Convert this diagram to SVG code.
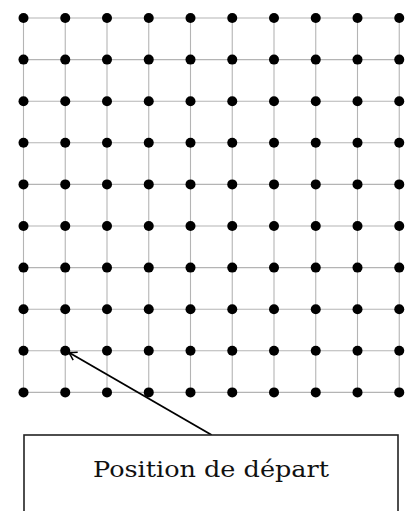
<svg xmlns="http://www.w3.org/2000/svg" width="419" height="511" viewBox="0 0 419 511">
  <defs>
    <style>
      .grid line { stroke: #b4b4b4; stroke-width: 1.1; }
      .dot { fill: #000; }
      .conn { stroke: #000; stroke-width: 1.8; fill: none; }
      .box { fill: #fff; stroke: #222; stroke-width: 1.6; }
      .label { font-family: "DejaVu Serif", "Liberation Serif", serif; font-size: 22.5px; fill: #111; }
    </style>
    <marker id="arr" viewBox="-10 -6 12 12" markerWidth="12" markerHeight="12" refX="0" refY="0" orient="auto" markerUnits="userSpaceOnUse">
      <path d="M -8 -4.5 Q -3 -1.2 0 0 Q -3 1.2 -8 4.5" fill="none" stroke="#000" stroke-width="1.5"/>
    </marker>
  </defs>
  <rect width="419" height="511" fill="#fff"/>
  <g id="grid" class="grid">
    <line x1="23.5" y1="18" x2="23.5" y2="392.4"/>
    <line x1="65.25" y1="18" x2="65.25" y2="392.4"/>
    <line x1="107" y1="18" x2="107" y2="392.4"/>
    <line x1="148.75" y1="18" x2="148.75" y2="392.4"/>
    <line x1="190.5" y1="18" x2="190.5" y2="392.4"/>
    <line x1="232.25" y1="18" x2="232.25" y2="392.4"/>
    <line x1="274" y1="18" x2="274" y2="392.4"/>
    <line x1="315.75" y1="18" x2="315.75" y2="392.4"/>
    <line x1="357.5" y1="18" x2="357.5" y2="392.4"/>
    <line x1="399.25" y1="18" x2="399.25" y2="392.4"/>
    <line x1="23.5" y1="18" x2="399.25" y2="18"/>
    <line x1="23.5" y1="59.6" x2="399.25" y2="59.6"/>
    <line x1="23.5" y1="101.2" x2="399.25" y2="101.2"/>
    <line x1="23.5" y1="142.8" x2="399.25" y2="142.8"/>
    <line x1="23.5" y1="184.4" x2="399.25" y2="184.4"/>
    <line x1="23.5" y1="226" x2="399.25" y2="226"/>
    <line x1="23.5" y1="267.6" x2="399.25" y2="267.6"/>
    <line x1="23.5" y1="309.2" x2="399.25" y2="309.2"/>
    <line x1="23.5" y1="350.8" x2="399.25" y2="350.8"/>
    <line x1="23.5" y1="392.4" x2="399.25" y2="392.4"/>
  </g>
  <g id="dots">
    <g id="row0"><circle class="dot" cx="23.5" cy="18" r="5"/><circle class="dot" cx="65.25" cy="18" r="5"/><circle class="dot" cx="107" cy="18" r="5"/><circle class="dot" cx="148.75" cy="18" r="5"/><circle class="dot" cx="190.5" cy="18" r="5"/><circle class="dot" cx="232.25" cy="18" r="5"/><circle class="dot" cx="274" cy="18" r="5"/><circle class="dot" cx="315.75" cy="18" r="5"/><circle class="dot" cx="357.5" cy="18" r="5"/><circle class="dot" cx="399.25" cy="18" r="5"/></g>
    <g id="row1"><circle class="dot" cx="23.5" cy="59.6" r="5"/><circle class="dot" cx="65.25" cy="59.6" r="5"/><circle class="dot" cx="107" cy="59.6" r="5"/><circle class="dot" cx="148.75" cy="59.6" r="5"/><circle class="dot" cx="190.5" cy="59.6" r="5"/><circle class="dot" cx="232.25" cy="59.6" r="5"/><circle class="dot" cx="274" cy="59.6" r="5"/><circle class="dot" cx="315.75" cy="59.6" r="5"/><circle class="dot" cx="357.5" cy="59.6" r="5"/><circle class="dot" cx="399.25" cy="59.6" r="5"/></g>
    <g id="row2"><circle class="dot" cx="23.5" cy="101.2" r="5"/><circle class="dot" cx="65.25" cy="101.2" r="5"/><circle class="dot" cx="107" cy="101.2" r="5"/><circle class="dot" cx="148.75" cy="101.2" r="5"/><circle class="dot" cx="190.5" cy="101.2" r="5"/><circle class="dot" cx="232.25" cy="101.2" r="5"/><circle class="dot" cx="274" cy="101.2" r="5"/><circle class="dot" cx="315.75" cy="101.2" r="5"/><circle class="dot" cx="357.5" cy="101.2" r="5"/><circle class="dot" cx="399.25" cy="101.2" r="5"/></g>
    <g id="row3"><circle class="dot" cx="23.5" cy="142.8" r="5"/><circle class="dot" cx="65.25" cy="142.8" r="5"/><circle class="dot" cx="107" cy="142.8" r="5"/><circle class="dot" cx="148.75" cy="142.8" r="5"/><circle class="dot" cx="190.5" cy="142.8" r="5"/><circle class="dot" cx="232.25" cy="142.8" r="5"/><circle class="dot" cx="274" cy="142.8" r="5"/><circle class="dot" cx="315.75" cy="142.8" r="5"/><circle class="dot" cx="357.5" cy="142.8" r="5"/><circle class="dot" cx="399.25" cy="142.8" r="5"/></g>
    <g id="row4"><circle class="dot" cx="23.5" cy="184.4" r="5"/><circle class="dot" cx="65.25" cy="184.4" r="5"/><circle class="dot" cx="107" cy="184.4" r="5"/><circle class="dot" cx="148.75" cy="184.4" r="5"/><circle class="dot" cx="190.5" cy="184.4" r="5"/><circle class="dot" cx="232.25" cy="184.4" r="5"/><circle class="dot" cx="274" cy="184.4" r="5"/><circle class="dot" cx="315.75" cy="184.4" r="5"/><circle class="dot" cx="357.5" cy="184.4" r="5"/><circle class="dot" cx="399.25" cy="184.4" r="5"/></g>
    <g id="row5"><circle class="dot" cx="23.5" cy="226" r="5"/><circle class="dot" cx="65.25" cy="226" r="5"/><circle class="dot" cx="107" cy="226" r="5"/><circle class="dot" cx="148.75" cy="226" r="5"/><circle class="dot" cx="190.5" cy="226" r="5"/><circle class="dot" cx="232.25" cy="226" r="5"/><circle class="dot" cx="274" cy="226" r="5"/><circle class="dot" cx="315.75" cy="226" r="5"/><circle class="dot" cx="357.5" cy="226" r="5"/><circle class="dot" cx="399.25" cy="226" r="5"/></g>
    <g id="row6"><circle class="dot" cx="23.5" cy="267.6" r="5"/><circle class="dot" cx="65.25" cy="267.6" r="5"/><circle class="dot" cx="107" cy="267.6" r="5"/><circle class="dot" cx="148.75" cy="267.6" r="5"/><circle class="dot" cx="190.5" cy="267.6" r="5"/><circle class="dot" cx="232.25" cy="267.6" r="5"/><circle class="dot" cx="274" cy="267.6" r="5"/><circle class="dot" cx="315.75" cy="267.6" r="5"/><circle class="dot" cx="357.5" cy="267.6" r="5"/><circle class="dot" cx="399.25" cy="267.6" r="5"/></g>
    <g id="row7"><circle class="dot" cx="23.5" cy="309.2" r="5"/><circle class="dot" cx="65.25" cy="309.2" r="5"/><circle class="dot" cx="107" cy="309.2" r="5"/><circle class="dot" cx="148.75" cy="309.2" r="5"/><circle class="dot" cx="190.5" cy="309.2" r="5"/><circle class="dot" cx="232.25" cy="309.2" r="5"/><circle class="dot" cx="274" cy="309.2" r="5"/><circle class="dot" cx="315.75" cy="309.2" r="5"/><circle class="dot" cx="357.5" cy="309.2" r="5"/><circle class="dot" cx="399.25" cy="309.2" r="5"/></g>
    <g id="row8"><circle class="dot" cx="23.5" cy="350.8" r="5"/><circle id="start" class="dot" cx="65.25" cy="350.8" r="5"/><circle class="dot" cx="107" cy="350.8" r="5"/><circle class="dot" cx="148.75" cy="350.8" r="5"/><circle class="dot" cx="190.5" cy="350.8" r="5"/><circle class="dot" cx="232.25" cy="350.8" r="5"/><circle class="dot" cx="274" cy="350.8" r="5"/><circle class="dot" cx="315.75" cy="350.8" r="5"/><circle class="dot" cx="357.5" cy="350.8" r="5"/><circle class="dot" cx="399.25" cy="350.8" r="5"/></g>
    <g id="row9"><circle class="dot" cx="23.5" cy="392.4" r="5"/><circle class="dot" cx="65.25" cy="392.4" r="5"/><circle class="dot" cx="107" cy="392.4" r="5"/><circle class="dot" cx="148.75" cy="392.4" r="5"/><circle class="dot" cx="190.5" cy="392.4" r="5"/><circle class="dot" cx="232.25" cy="392.4" r="5"/><circle class="dot" cx="274" cy="392.4" r="5"/><circle class="dot" cx="315.75" cy="392.4" r="5"/><circle class="dot" cx="357.5" cy="392.4" r="5"/><circle class="dot" cx="399.25" cy="392.4" r="5"/></g>
  </g>
  <g id="connectors">
    <line class="conn" x1="211.7" y1="435" x2="68.5" y2="352.2" marker-end="url(#arr)"/>
  </g>
  <g id="label-box">
    <rect class="box" x="24" y="435" width="374" height="90"/>
    <text class="label" x="93" y="477" textLength="236" lengthAdjust="spacingAndGlyphs">Position de départ</text>
  </g>
</svg>
